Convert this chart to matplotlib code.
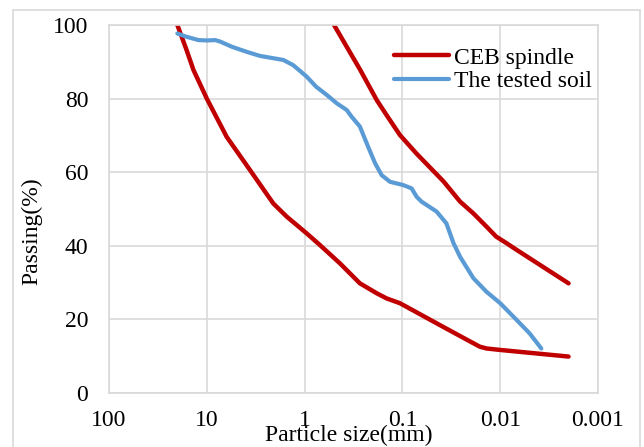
import matplotlib
matplotlib.use('Agg')
import matplotlib.pyplot as plt
from matplotlib.patches import Rectangle

plt.rcParams['font.family'] = ['Liberation Serif', 'DejaVu Serif']

# CEB spindle, upper limit (particle size mm, passing %)
ceb_up_d = [0.5, 0.27, 0.183, 0.145, 0.106, 0.0714, 0.038, 0.0257,
            0.0188, 0.0138, 0.011, 0.0086, 0.0068, 0.002]
ceb_up_p = [100, 87.8, 79.6, 75.5, 70.1, 65.0, 57.5, 52.0,
            48.8, 45.2, 42.5, 40.7, 38.9, 29.8]

# CEB spindle, lower limit
ceb_lo_d = [20.0, 16.1, 13.7, 10.0, 6.26, 3.62, 2.09, 1.52, 0.955, 0.697,
            0.434, 0.272, 0.183, 0.145, 0.106, 0.052, 0.041, 0.022, 0.0162,
            0.0138, 0.01, 0.002]
ceb_lo_p = [100, 93.2, 87.8, 80.0, 69.6, 60.6, 51.5, 47.9, 43.4, 40.2,
            35.2, 29.8, 27.1, 25.7, 24.4, 19.9, 18.4, 14.5, 12.6,
            12.1, 11.7, 9.9]

# tested soil
soil_d = [20.0, 16.1, 12.2, 10.0, 8.2, 7.3, 5.56, 3.9, 2.86, 1.65, 1.52,
          1.31, 0.955, 0.76, 0.594, 0.468, 0.371, 0.331, 0.272, 0.224,
          0.19, 0.163, 0.134, 0.098, 0.0805, 0.0714, 0.0637, 0.0447,
          0.0355, 0.030, 0.0257, 0.0188, 0.0138, 0.01, 0.0073, 0.005, 0.0038]
soil_p = [97.7, 96.8, 95.9, 95.8, 95.9, 95.5, 94.1, 92.7, 91.6, 90.5, 90.0,
          89.1, 86.0, 83.2, 81.0, 78.7, 76.9, 75.1, 72.4, 66.9,
          62.4, 59.2, 57.4, 56.5, 55.6, 53.3, 52.0, 49.3,
          46.1, 40.7, 37.0, 31.2, 27.5, 24.4, 20.7, 16.2, 12.1]

xticks = [100, 10, 1, 0.1, 0.01, 0.001]
xticklabels = ['100', '10', '1', '0.1', '0.01', '0.001']
yticks = [0, 20, 40, 60, 80, 100]

red = '#C00000'
blue = '#5B9BD5'
grid_c = '#D9D9D9'
fs = 17

fig = plt.figure(figsize=(6.44, 4.47), dpi=100)
ax = fig.add_axes([109/644, 1-393/447, 489/644, 368/447])

lw = 3.2
ax.plot(ceb_lo_d, ceb_lo_p, color=red, lw=lw, label='CEB spindle',
        solid_capstyle='round', solid_joinstyle='round')
ax.plot(ceb_up_d, ceb_up_p, color=red, lw=lw, label='_nolegend_',
        solid_capstyle='round', solid_joinstyle='round')
ax.plot(soil_d, soil_p, color=blue, lw=3.0, label='The tested soil',
        solid_capstyle='round', solid_joinstyle='round')

ax.set_xscale('log')
ax.set_xlim(100, 0.001)
ax.set_ylim(0, 100)
ax.set_xticks(xticks)
ax.set_xticklabels(xticklabels)
ax.minorticks_off()
ax.set_yticks(yticks)
ax.tick_params(length=0, labelsize=fs)
ax.tick_params(axis='y', pad=15)
ax.tick_params(axis='x', pad=12)
ax.grid(True, color=grid_c, lw=1.2)
ax.set_axisbelow(True)
for s in ax.spines.values():
    s.set_color(grid_c)
    s.set_linewidth(1.2)

ax.legend(loc='upper left', bbox_to_anchor=(394/644, 1-47/447),
          bbox_transform=fig.transFigure, frameon=False, fontsize=fs,
          borderpad=0, borderaxespad=0, handlelength=2.35, handletextpad=0.2,
          labelspacing=0.1)

fig.text(32/644, 1-231/447, 'Passing(%)', rotation=90, fontsize=fs,
         ha='center', va='center')
fig.text(349/644, 1-435/447, 'Particle size(mm)', fontsize=fs,
         ha='center', va='center')

fig.patches.append(Rectangle((13/644, -0.1), (640-13)/644, 1.1-10/447,
                             transform=fig.transFigure, fill=False,
                             edgecolor=grid_c, lw=1.2))

fig.savefig('out.png', dpi=100)
